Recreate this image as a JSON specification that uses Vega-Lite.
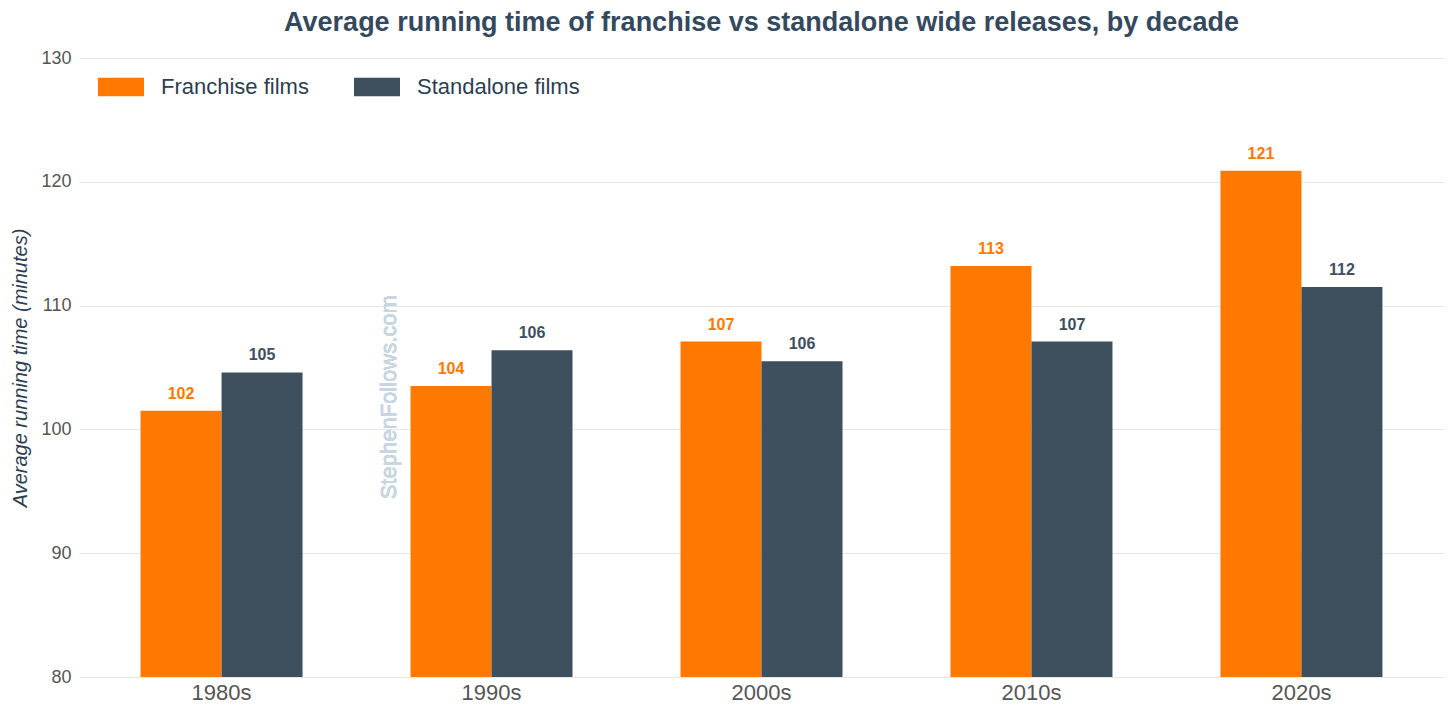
{
  "$schema": "https://vega.github.io/schema/vega-lite/v6.json",
  "width": 1365,
  "height": 619,
  "autosize": "none",
  "padding": {"left": 79, "top": 58, "right": 12, "bottom": 39},
  "background": "white",
  "config": {"font": "Liberation Sans", "view": {"stroke": null}},
  "title": {
    "text": "Average running time of franchise vs standalone wide releases, by decade",
    "fontSize": 27,
    "fontWeight": "bold",
    "color": "#34495e",
    "anchor": "middle",
    "offset": 12
  },
  "data": {
    "values": [
      {"decade": "1980s", "series": "Franchise films", "minutes": 101.5},
      {"decade": "1980s", "series": "Standalone films", "minutes": 104.6},
      {"decade": "1990s", "series": "Franchise films", "minutes": 103.5},
      {"decade": "1990s", "series": "Standalone films", "minutes": 106.4},
      {"decade": "2000s", "series": "Franchise films", "minutes": 107.1},
      {"decade": "2000s", "series": "Standalone films", "minutes": 105.5},
      {"decade": "2010s", "series": "Franchise films", "minutes": 113.2},
      {"decade": "2010s", "series": "Standalone films", "minutes": 107.1},
      {"decade": "2020s", "series": "Franchise films", "minutes": 120.9},
      {"decade": "2020s", "series": "Standalone films", "minutes": 111.5}
    ]
  },
  "layer": [
    {
      "mark": {"type": "bar"},
      "encoding": {
        "x": {
          "field": "decade", "type": "nominal", "sort": null,
          "scale": {"paddingInner": 0.4, "paddingOuter": 0.228},
          "axis": {"title": null, "labelAngle": 0, "labelFontSize": 22, "labelColor": "#555555", "ticks": false, "domain": false, "grid": false, "labelPadding": 5}
        },
        "xOffset": {"field": "series", "type": "nominal", "sort": ["Franchise films", "Standalone films"]},
        "y": {
          "field": "minutes", "type": "quantitative",
          "scale": {"domain": [80, 130], "nice": false, "zero": false},
          "axis": {
            "values": [80, 90, 100, 110, 120, 130],
            "grid": true, "gridColor": "#e6e6e6", "domain": false, "ticks": false,
            "labelFontSize": 18, "labelColor": "#555555", "labelPadding": 8,
            "title": "Average running time (minutes)",
            "titleFontStyle": "italic", "titleFontWeight": "normal", "titleFontSize": 20,
            "titleColor": "#2c3e50", "titlePadding": 10
          }
        },
        "y2": {"datum": 80},
        "color": {
          "field": "series", "type": "nominal",
          "scale": {"domain": ["Franchise films", "Standalone films"], "range": ["#ff7800", "#3e4f5e"]},
          "legend": {
            "title": null, "orient": "none", "legendX": 19, "legendY": 6,
            "direction": "horizontal",
            "symbolType": "M-1,-0.4H1V0.4H-1Z", "symbolSize": 2116, "symbolStrokeWidth": 0,
            "labelFontSize": 22, "labelColor": "#2c3e50", "labelOffset": 17, "columnPadding": 45,
            "labelLimit": 400
          }
        }
      }
    },
    {
      "mark": {"type": "text", "fontWeight": "bold", "fontSize": 16, "baseline": "bottom", "dy": -9},
      "encoding": {
        "x": {"field": "decade", "type": "nominal", "sort": null},
        "xOffset": {"field": "series", "type": "nominal", "sort": ["Franchise films", "Standalone films"]},
        "y": {"field": "minutes", "type": "quantitative"},
        "text": {"field": "minutes", "type": "quantitative", "format": ".0f"},
        "color": {"field": "series", "type": "nominal", "legend": null}
      }
    },
    {
      "mark": {"type": "text", "text": "StephenFollows.com", "angle": 270, "fontSize": 22, "fontWeight": "normal", "color": "#c8d6e2", "baseline": "middle", "align": "center", "dy": 167},
      "encoding": {
        "x": {"datum": "1980s", "type": "nominal"},
        "y": {"datum": 102.6, "type": "quantitative"}
      }
    }
  ]
}
